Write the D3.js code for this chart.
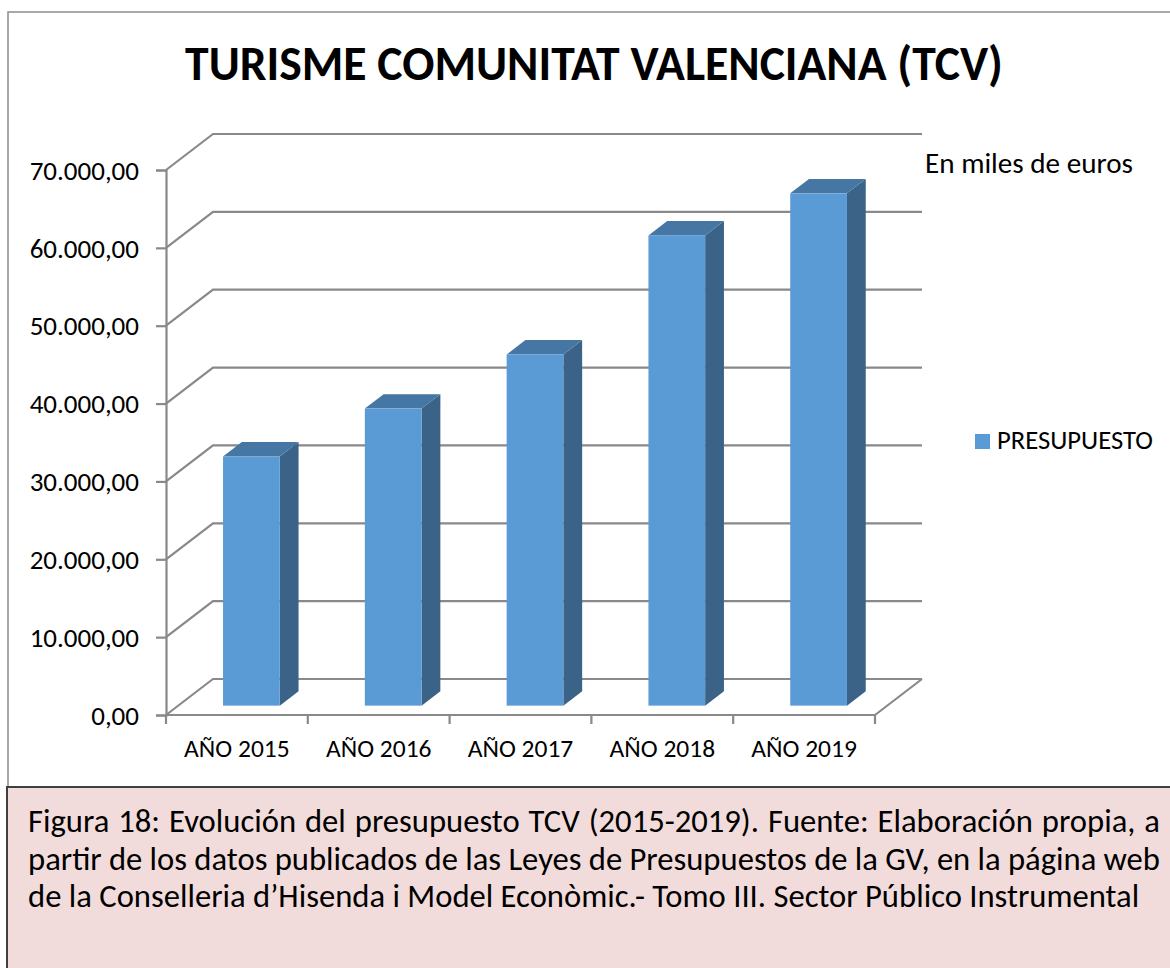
<!DOCTYPE html>
<html>
<head>
<meta charset="utf-8">
<script src="https://cdn.jsdelivr.net/npm/d3@7"></script>
<style>
  html, body { margin: 0; padding: 0; background: #fff; }
  svg { display: block; font-family: Carlito, Calibri, Lato, sans-serif; }
</style>
</head>
<body>
<div id="visualization"></div>
<script>
// Data (miles de euros)
const categories = ['AÑO 2015', 'AÑO 2016', 'AÑO 2017', 'AÑO 2018', 'AÑO 2019'];
const presupuesto = [32000, 38150, 45100, 60400, 65800];
const yTicks = [0, 10000, 20000, 30000, 40000, 50000, 60000, 70000];
const seriesName = 'PRESUPUESTO';
const title = 'TURISME COMUNITAT VALENCIANA (TCV)';
const unitsNote = 'En miles de euros';
const captionLines = [
    'Figura 18: Evolución del presupuesto TCV (2015-2019). Fuente: Elaboración propia, a',
    'partir de los datos publicados de las Leyes de Presupuestos de la GV, en la página web',
    'de la Conselleria d’Hisenda i Model Econòmic.- Tomo III. Sector Público Instrumental'
];

const W = 1170, H = 968;
const svg = d3.select('#visualization')
    .append('svg')
    .attr('width', W)
    .attr('height', H);

// Number format like "70.000,00"
const locale = d3.formatLocale({decimal: ',', thousands: '.', grouping: [3], currency: ['', '€']});
const fmt = locale.format(',.2f');

// Shrink/grow a text so it reaches a target width
function fitWidth(sel, target) {
    const w = sel.node().getComputedTextLength();
    const fs = parseFloat(sel.attr('font-size'));
    sel.attr('font-size', fs * target / w);
}

// Outer chart frame
svg.append('rect')
    .attr('x', 8).attr('y', 12)
    .attr('width', W + 10).attr('height', 775)
    .attr('fill', '#fff')
    .attr('stroke', '#8c8c8c')
    .attr('stroke-width', 1.5);

// Plot geometry (front plane of the 3D box)
const x0 = 166, x1 = 875;
const depth = {dx: 47, dy: 36};   // oblique offset of the back wall
const x = d3.scaleBand().domain(categories).range([x0, x1]).padding(0);
const y = d3.scaleLinear().domain([0, 70000]).range([715, 170]);

const gridColor = '#898989';

// Gridlines: front edge -> diagonal -> back wall
svg.append('g')
    .selectAll('path')
    .data(yTicks)
    .join('path')
    .attr('d', t => `M${x0},${y(t)} L${x0 + depth.dx},${y(t) - depth.dy} L${x1 + depth.dx},${y(t) - depth.dy}`)
    .attr('fill', 'none')
    .attr('stroke', gridColor)
    .attr('stroke-width', 2.2);

// Floor front edge and right side
svg.append('path')
    .attr('d', `M${x0},${y(0)} L${x1},${y(0)} L${x1 + depth.dx},${y(0) - depth.dy}`)
    .attr('fill', 'none')
    .attr('stroke', gridColor)
    .attr('stroke-width', 2.2);

// Y axis
const yAxis = svg.append('g')
    .attr('transform', `translate(${x0},0)`)
    .call(d3.axisLeft(y).tickValues(yTicks).tickFormat(fmt).tickSize(10).tickPadding(17));
yAxis.selectAll('path, line').attr('stroke', gridColor).attr('stroke-width', 2.2);
yAxis.selectAll('text')
    .attr('font-family', 'Carlito, Calibri, Lato, sans-serif')
    .attr('font-size', 27)
    .attr('dy', '0.34em')
    .attr('fill', '#000');

// X axis (category labels under the front floor edge)
const xAxis = svg.append('g')
    .attr('transform', `translate(0,${y(0)})`)
    .call(d3.axisBottom(x).tickSize(0).tickPadding(24));
xAxis.select('.domain').remove();
xAxis.selectAll('text')
    .attr('font-family', 'Carlito, Calibri, Lato, sans-serif')
    .attr('font-size', 25.5)
    .attr('fill', '#000');
svg.append('g')
    .selectAll('line')
    .data(d3.range(categories.length + 1))
    .join('line')
    .attr('x1', i => x0 + i * x.step())
    .attr('x2', i => x0 + i * x.step())
    .attr('y1', y(0))
    .attr('y2', y(0) + 9)
    .attr('stroke', gridColor)
    .attr('stroke-width', 2.2);

// 3D bars
const dFront = 0.26, dBack = 0.66;         // depth of bar faces (fraction of box depth)
const barOffset = 0.316, barWidth = 0.4;  // within category slot
const bars = svg.append('g')
    .selectAll('g')
    .data(categories.map((c, i) => ({cat: c, value: presupuesto[i]})))
    .join('g');

function barGeom(d) {
    const fx = x(d.cat) + x.step() * barOffset + depth.dx * dFront;
    const fw = x.step() * barWidth;
    const yb = y(0) - depth.dy * dFront;
    const yt = y(d.value) - depth.dy * dFront;
    const ox = depth.dx * (dBack - dFront), oy = depth.dy * (dBack - dFront);
    return {fx, fw, yb, yt, ox, oy};
}

bars.append('path') // side
    .attr('d', d => {
        const g = barGeom(d);
        return `M${g.fx + g.fw},${g.yt} L${g.fx + g.fw + g.ox},${g.yt - g.oy} L${g.fx + g.fw + g.ox},${g.yb - g.oy} L${g.fx + g.fw},${g.yb}Z`;
    })
    .attr('fill', '#3a6387');

bars.append('path') // top
    .attr('d', d => {
        const g = barGeom(d);
        return `M${g.fx},${g.yt} L${g.fx + g.fw},${g.yt} L${g.fx + g.fw + g.ox},${g.yt - g.oy} L${g.fx + g.ox},${g.yt - g.oy}Z`;
    })
    .attr('fill', '#4676a3');

bars.append('rect') // front
    .attr('x', d => barGeom(d).fx)
    .attr('y', d => barGeom(d).yt)
    .attr('width', d => barGeom(d).fw)
    .attr('height', d => barGeom(d).yb - barGeom(d).yt)
    .attr('fill', '#5b9bd5');

// Title
const t = svg.append('text')
    .attr('x', 594).attr('y', 80)
    .attr('text-anchor', 'middle')
    .attr('font-weight', 'bold')
    .attr('font-size', 44)
    .attr('fill', '#000')
    .text(title);
fitWidth(t, 818);

// Units note
const u = svg.append('text')
    .attr('x', 925).attr('y', 173)
    .attr('font-size', 24)
    .attr('fill', '#000')
    .text(unitsNote);
fitWidth(u, 208);

// Legend
svg.append('rect')
    .attr('x', 975).attr('y', 434)
    .attr('width', 15).attr('height', 15)
    .attr('fill', '#5b9bd5');
const lg = svg.append('text')
    .attr('x', 997).attr('y', 449)
    .attr('font-size', 22)
    .attr('fill', '#000')
    .text(seriesName);
fitWidth(lg, 156);

// Caption box
svg.append('rect')
    .attr('x', 7).attr('y', 787)
    .attr('width', W + 10).attr('height', 200)
    .attr('fill', '#f2dcdb')
    .attr('stroke', '#3f3f3f')
    .attr('stroke-width', 2);

const capText = svg.append('g')
    .selectAll('text')
    .data(captionLines)
    .join('text')
    .attr('x', 28)
    .attr('y', (d, i) => 832 + i * 37.5)
    .attr('font-size', 26)
    .attr('fill', '#000')
    .text(d => d);
// size from the last (non-justified) line, then justify the first two with word spacing
const last = d3.select(capText.nodes()[2]);
fitWidth(last, 1112);
capText.attr('font-size', last.attr('font-size'));
capText.filter((d, i) => i < 2).each(function (d) {
    const natural = this.getComputedTextLength();
    const gaps = d.split(' ').length - 1;
    d3.select(this).attr('word-spacing', (1132 - natural) / gaps);
});
</script>
</body>
</html>
